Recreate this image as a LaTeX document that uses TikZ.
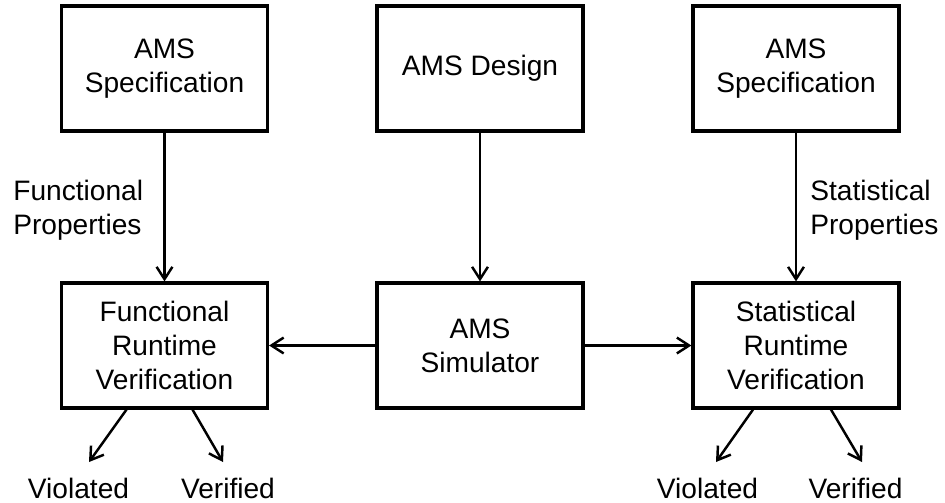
\documentclass[tikz,border=0pt]{standalone}
\usepackage{fontspec}
\setmainfont{Liberation Sans}
\usetikzlibrary{arrows.meta}

\begin{document}
\begin{tikzpicture}[
	box/.style={draw, line width=1.8pt, minimum width=4.12cm, minimum height=2.5cm, align=center, inner sep=0pt},
	arr/.style={line width=1.4pt, -{Straight Barb[length=7pt,width=9pt]}},
	lbl/.style={align=left, inner sep=0pt, anchor=west},
	font=\fontsize{16}{19.5}\selectfont]

	\useasboundingbox (0,0) rectangle (18.9,-10.04);

	\node[box] (funcspec) at (3.29,-1.37){AMS\\Specification};
	\node[box] (design) at (9.6,-1.37){AMS Design};
	\node[box] (statspec) at (15.92,-1.37){AMS\\Specification};

	\node[box] (funcrv) at (3.29,-6.91){Functional\\Runtime\\Verification};
	\node[box] (sim) at (9.6,-6.91){AMS\\Simulator};
	\node[box] (statrv) at (15.92,-6.91){Statistical\\Runtime\\Verification};

	\node[lbl] (funcprop) at (0.26,-4.2){Functional\\Properties};
	\node[lbl] (statprop) at (16.2,-4.2){Statistical\\Properties};

	\draw[arr] (funcspec) -- (funcrv);
	\draw[arr] (design) -- (sim);
	\draw[arr] (statspec) -- (statrv);
	\draw[arr] (sim) -- (funcrv); %to functional
	\draw[arr] (sim) -- (statrv); %to statistical

	% outcomes
	\coordinate (fviol) at (1.78,-9.24);
	\coordinate (fverif) at (4.46,-9.24);
	\coordinate (sviol) at (14.32,-9.24);
	\coordinate (sverif) at (17.24,-9.24);
	\draw[arr] ([xshift=-0.76cm]funcrv.south) -- (fviol);
	\draw[arr] ([xshift=0.56cm]funcrv.south) -- (fverif);
	\draw[arr] ([xshift=-0.86cm]statrv.south) -- (sviol);
	\draw[arr] ([xshift=0.7cm]statrv.south) -- (sverif);
	\node[anchor=base] (fviolt) at (1.57,-9.96){Violated};
	\node[anchor=base] (fverift) at (4.56,-9.96){Verified};
	\node[anchor=base] (sviolt) at (14.15,-9.96){Violated};
	\node[anchor=base] (sverift) at (17.11,-9.96){Verified};

\end{tikzpicture}
\end{document}
